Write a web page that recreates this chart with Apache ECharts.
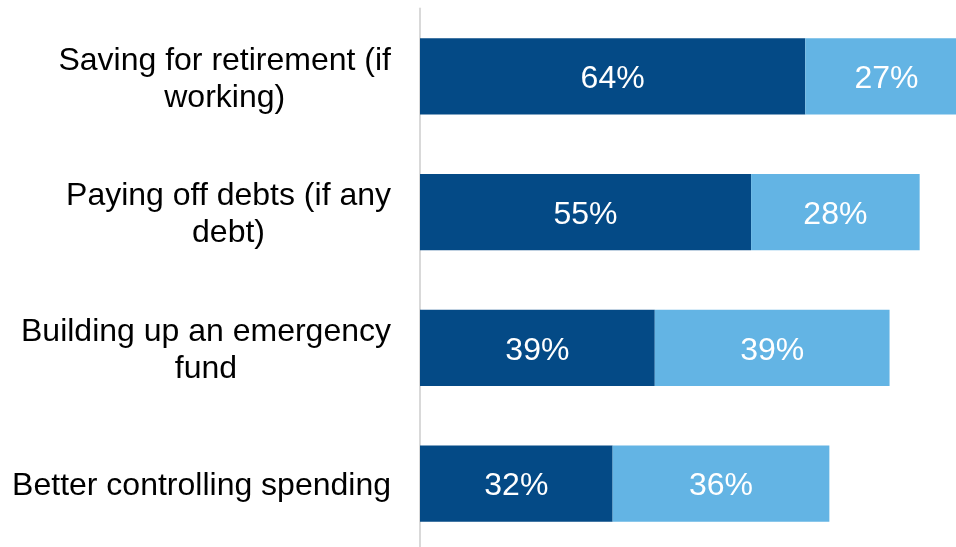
<!DOCTYPE html>
<html>
<head>
<meta charset="utf-8">
<script src="https://cdn.jsdelivr.net/npm/echarts@6/dist/echarts.min.js"></script>
<style>
  html, body { margin: 0; padding: 0; background: #ffffff; }
  #chart { width: 956px; height: 547px; }
</style>
</head>
<body>
<div id="chart"></div>
<script>
// Goals, top to bottom
const categories = [
  'Saving for retirement (if\nworking)',
  'Paying off debts (if any\ndebt)',
  'Building up an emergency\nfund',
  'Better controlling spending'
];
// Share of respondents (%), dark segment then light segment
const primaryValues = [64, 55, 39, 32];
const secondaryValues = [27, 28, 39, 36];

const FONT = '"Liberation Sans", Arial, sans-serif';
const chart = echarts.init(document.getElementById('chart'), null, { renderer: 'canvas' });

// Wrap every line so each one is centred inside the right-aligned label block
function centredLines(name) {
  return name.split('\n').map(function (line) { return '{c|' + line + '}'; }).join('\n');
}

const segmentLabel = {
  show: true,
  position: 'inside',
  offset: [0, 3],
  color: '#ffffff',
  fontFamily: FONT,
  fontSize: 32,
  formatter: function (p) { return p.value + '%'; }
};

chart.setOption({
  animation: false,
  backgroundColor: '#ffffff',
  // The plot runs past the right edge of the canvas, so the longest bar is cut off
  grid: {
    left: 420, width: 602, top: 8.5, height: 543,
    containLabel: false,
    outerBoundsMode: 'none'
  },
  xAxis: {
    type: 'value',
    min: 0,
    max: 100,
    show: false
  },
  yAxis: {
    type: 'category',
    data: categories,
    inverse: true,
    axisLine: { show: true, lineStyle: { color: '#d9d9d9', width: 2 } },
    axisTick: { show: false },
    splitLine: { show: false },
    axisLabel: {
      margin: 29,
      align: 'right',
      padding: [6, 0, 0, 0],
      formatter: centredLines,
      rich: {
        c: {
          align: 'center',
          fontFamily: FONT,
          fontSize: 32,
          lineHeight: 37,
          color: '#000000'
        }
      }
    }
  },
  series: [
    {
      type: 'bar',
      stack: 'total',
      data: primaryValues,
      barWidth: '56%',
      itemStyle: { color: '#044a86' },
      label: segmentLabel
    },
    {
      type: 'bar',
      stack: 'total',
      data: secondaryValues,
      barWidth: '56%',
      itemStyle: { color: '#63b4e4' },
      label: segmentLabel
    }
  ]
});
</script>
</body>
</html>
